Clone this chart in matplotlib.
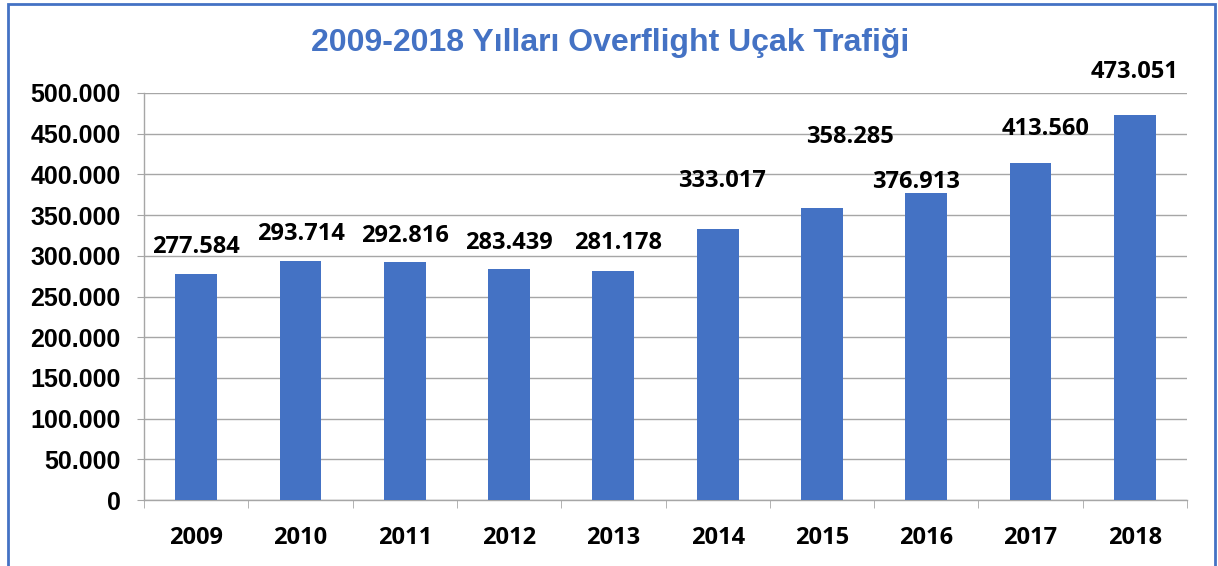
import matplotlib.pyplot as plt
from matplotlib.patches import Rectangle

years = ["2009", "2010", "2011", "2012", "2013", "2014", "2015", "2016", "2017", "2018"]
flights = [277584, 293714, 292816, 283439, 281178, 333017, 358285, 376913, 413560, 473051]
y_ticks = list(range(0, 500001, 50000))

# hand-placed label offsets (pixels from the top of each bar)
label_dx = [0, 1, 0, 0, 5, 4, 28, -10, 15, 0]
label_dy = [27, 27, 26, 26, 28, 48, 71, 11, 34, 43]

blue = "#4472C4"
grid_grey = "#A6A6A6"
label_font = "Open Sans"


def dotted(v):
    return f"{int(v):,}".replace(",", ".")


fig = plt.figure(figsize=(12.18, 5.66), dpi=100)
ax = fig.add_axes([144 / 1218, 1 - 500 / 566, (1187 - 144) / 1218, 407 / 566])

x = list(range(len(years)))
ax.bar(x, flights, width=0.4, color=blue, zorder=3)

for i, v in enumerate(flights):
    ax.annotate(dotted(v), (i, v), xytext=(label_dx[i], label_dy[i]),
                textcoords="offset pixels", ha="center", va="center",
                fontsize=17, fontweight="bold", family=label_font, color="black",
                zorder=4)

ax.set_xlim(-0.5, len(years) - 0.5)
ax.set_ylim(0, 500000)
ax.set_yticks(y_ticks)
ax.set_yticklabels([dotted(t) for t in y_ticks], family="Liberation Sans",
                   fontweight="bold", fontsize=18)
ax.grid(axis="y", color=grid_grey, linewidth=1.0, zorder=0)

ax.set_xticks(x)
ax.set_xticklabels(years, family=label_font, fontweight="bold", fontsize=17)
ax.set_xticks([i + 0.5 for i in range(-1, len(years))], minor=True)
ax.tick_params(axis="x", which="major", length=0, pad=19)
ax.tick_params(axis="x", which="minor", length=6, color=grid_grey, direction="out")
ax.tick_params(axis="y", length=5, color=grid_grey, direction="out", pad=12)

for side in ["top", "right"]:
    ax.spines[side].set_visible(False)
for side in ["left", "bottom"]:
    ax.spines[side].set_color(grid_grey)
    ax.spines[side].set_linewidth(1.0)

fig.text(610 / 1218, 1 - 43 / 566, "2009-2018 Yılları Overflight Uçak Trafiği",
         ha="center", va="center", color=blue, fontsize=23, fontweight="bold",
         family="Liberation Sans")

# chart frame
fig.patches.append(Rectangle((8 / 1218, -0.01), (1215 - 8) / 1218, 1 - 4 / 566 + 0.01,
                             transform=fig.transFigure, fill=False,
                             edgecolor=blue, linewidth=2))

fig.savefig("out.png", dpi=100)
